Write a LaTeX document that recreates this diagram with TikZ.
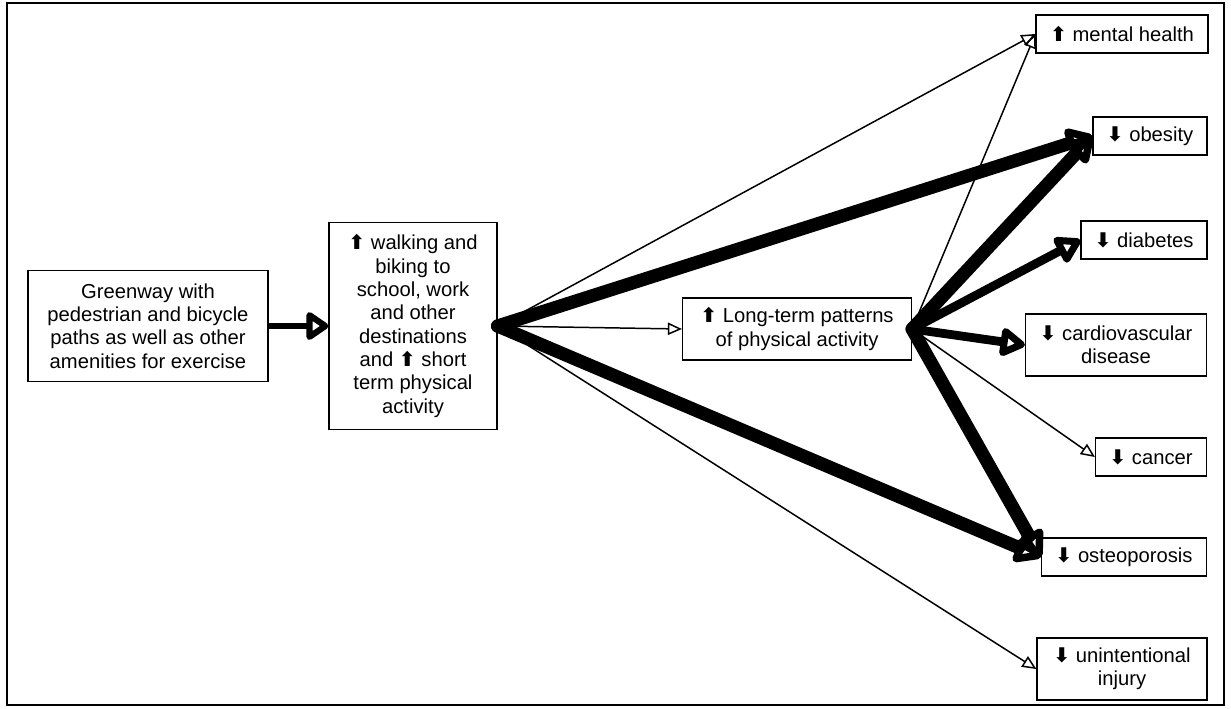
\documentclass[tikz,border=0pt]{standalone}
\usepackage{fontspec}
\setmainfont{Liberation Sans}
\newfontfamily\arrfont{DejaVu Sans}
\usetikzlibrary{arrows.meta,positioning}
\newcommand{\incr}{{\arrfont\bfseries ⬆}}
\newcommand{\decr}{{\arrfont\bfseries ⬇}}
\tikzstyle{box} = [draw, line width=0.7pt, align=center, inner sep=2pt, font=\fontsize{11.5}{13.3}\selectfont]
\tikzstyle{arrthin} = [line width=0.85pt, -{Triangle[open, length=8pt, width=7pt]}]
\tikzstyle{arrmid} = [line width=3.8pt, -{Triangle[open, round, length=14pt, width=18pt]}]
\tikzstyle{arrthick} = [line width=5pt, line cap=round, -{Triangle[open, round, length=16pt, width=18pt]}]
\tikzstyle{arrheavy} = [line width=7.5pt, line cap=round, -{Triangle[open, round, length=17pt, width=19pt]}]

\begin{document}
\begin{tikzpicture}[x=0.02cm, y=-0.02cm]
        \useasboundingbox (0,0) rectangle (1231,708);
        \draw[line width=1.1pt] (7,3) rectangle (1224,705);
        % boxes
        \node[box, minimum width=4.8cm, minimum height=2.22cm] (green) at (148,326) {Greenway with\\pedestrian and bicycle\\paths as well as other\\amenities for exercise};
        \node[box, minimum width=3.36cm, minimum height=4.14cm] (walk) at (413,326) {\incr{} walking and\\biking to\\school, work\\and other\\destinations\\and \incr{} short\\term physical\\activity};
        \node[box, minimum width=4.58cm, minimum height=1.24cm] (long) at (797,329) {\incr{} Long-term patterns\\of physical activity};
        \node[box, minimum width=3.44cm, minimum height=0.76cm] (mental) at (1122,34) {\incr{} mental health};
        \node[box, minimum width=2.28cm, minimum height=0.76cm] (obesity) at (1150,136) {\decr{} obesity};
        \node[box, minimum width=2.52cm, minimum height=0.76cm] (diabetes) at (1144,240) {\decr{} diabetes};
        \node[box, minimum width=3.62cm, minimum height=1.24cm] (cardio) at (1116,345) {\decr{} cardiovascular\\disease};
        \node[box, minimum width=2.22cm, minimum height=0.76cm] (cancer) at (1151,457) {\decr{} cancer};
        \node[box, minimum width=3.3cm, minimum height=0.76cm] (osteo) at (1124,557) {\decr{} osteoporosis};
        \node[box, minimum width=3.4cm, minimum height=1.24cm] (injury) at (1122,669) {\decr{} unintentional\\injury};
        % arrows
        \draw[arrmid] (green) -- (walk);
        \draw[arrthin] (walk.east) -- (mental.west);
        \draw[arrheavy] (walk.east) -- (obesity.west);
        \draw[arrthin] (walk.east) -- (long.west);
        \draw[arrheavy] (walk.east) -- (osteo.west);
        \draw[arrthin] (walk.east) -- (injury.west);
        \draw[arrthin] (long.east) -- (mental.west);
        \draw[arrheavy] (long.east) -- (obesity.west);
        \draw[arrthick] (long.east) -- (diabetes.west);
        \draw[arrthick] (long.east) -- (cardio.west);
        \draw[arrthin] (long.east) -- (cancer.west);
        \draw[arrheavy] (long.east) -- (osteo.west);
        \end{tikzpicture}
\end{document}
